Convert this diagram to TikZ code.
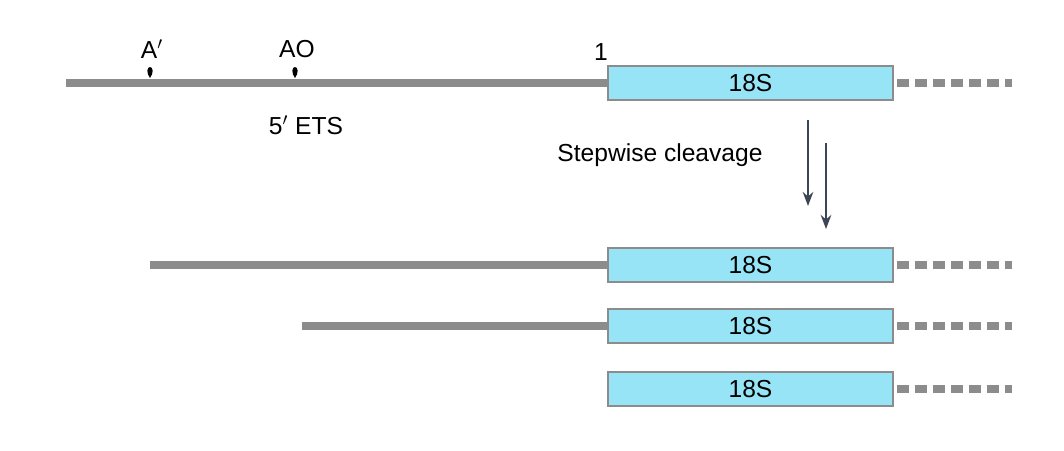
\documentclass[tikz,border=0pt]{standalone}
\usepackage{fontspec}
\setmainfont{Liberation Sans}
\usetikzlibrary{arrows.meta}
\definecolor{rnagray}{HTML}{8C8C8C}
\definecolor{boxcyan}{HTML}{96E4F6}
\definecolor{arrowslate}{HTML}{3D4654}
\tikzset{
  ets/.style={rnagray,line width=8\px},
  rrna/.style={draw=rnagray,fill=boxcyan,line width=1.5pt,minimum width=285\px,minimum height=34\px,inner sep=0pt,font=\fontsize{14}{16}\selectfont},
  spacer/.style={rnagray,line width=8\px,dash pattern=on 12\px off 6\px},
  lbl/.style={font=\fontsize{14}{16}\selectfont,inner sep=0pt},
  cleave/.style={arrowslate,line width=1.2pt,-{Stealth[length=8pt,width=6pt]}}
}
\newlength{\px}\setlength{\px}{0.02cm}
\begin{document}
\begin{tikzpicture}[x=0.02cm,y=-0.02cm]
\useasboundingbox (0,0) rectangle (1064,450);
% precursor
\node[rrna] (boxa) at (750.5,83) {18S};
\coordinate (etsa) at (66,83);
\draw[ets] (etsa) -- (boxa.west);
\coordinate (spa) at (897,83);
\coordinate (spb) at (1012,83);
\draw[spacer] (spa) -- (spb);
\foreach \xpos/\txt [count=\i] in {150/A$'$,295/AO}{
  \fill[black] (\xpos,78) .. controls (\xpos-4,73) and (\xpos-3,67) .. (\xpos,67)
    .. controls (\xpos+3,67) and (\xpos+4,73) .. (\xpos,78);
  \node[lbl] (site\i) at (\xpos+2,49) {\txt};
}
\node[lbl] (one) at (601,52) {1};
\node[lbl] (ets) at (306,125) {5$'$ ETS};
\node[lbl] (step) at (660,155) {Stepwise cleavage};
% arrows
\coordinate (ara) at (808,120);
\coordinate (arb) at (808,206);
\coordinate (arc) at (826,143);
\coordinate (ard) at (826,229);
\draw[cleave] (ara) -- (arb);
\draw[cleave] (arc) -- (ard);
% intermediates
\foreach \ypos/\xstart [count=\j] in {265/150,326/302,389/608}{
  \node[rrna] (box\j) at (750.5,\ypos) {18S};
  \coordinate (start\j) at (\xstart,\ypos);
  \draw[ets] (start\j) -- (box\j.west);
  \coordinate (sa\j) at (897,\ypos);
  \coordinate (sb\j) at (1012,\ypos);
  \draw[spacer] (sa\j) -- (sb\j);
}
\end{tikzpicture}
\end{document}
